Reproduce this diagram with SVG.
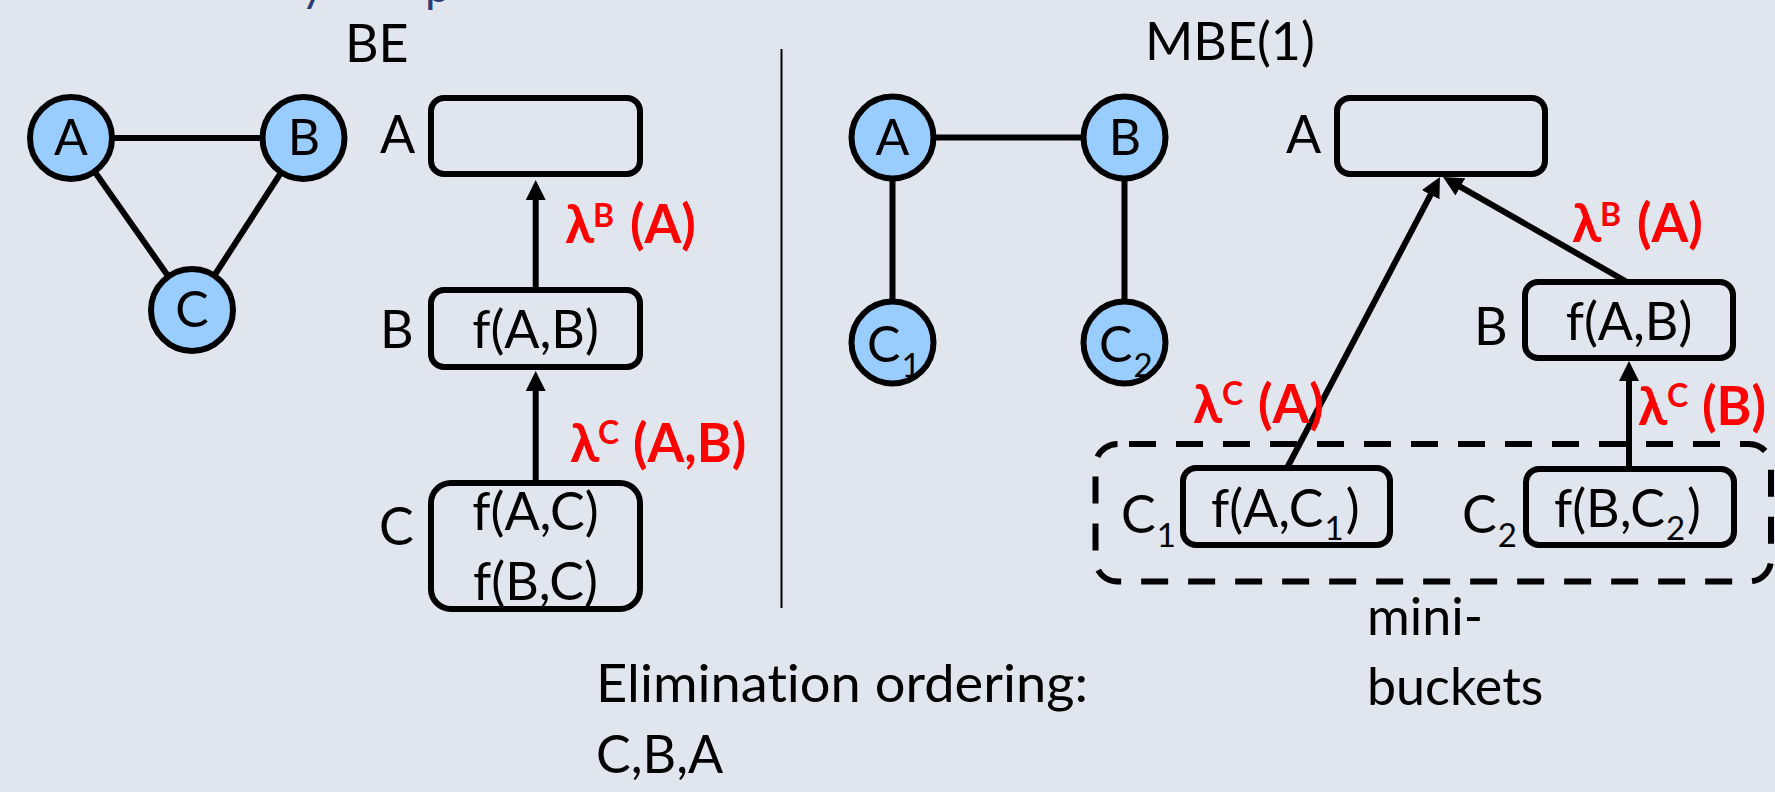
<svg xmlns="http://www.w3.org/2000/svg" width="1775" height="792" viewBox="0 0 1775 792">
  <style>
    text { font-variant-ligatures: none; font-feature-settings: "liga" 0, "clig" 0; }
    .bg { fill: #E1E5EE; }
    .node circle { fill: #99CCFF; stroke: #000; stroke-width: 6; }
    .node text { font-size: 50px; }
    .bucket { fill: none; stroke: #000; stroke-width: 6; }
    .edge { stroke: #000; stroke-width: 6; fill: none; }
    .arrow { stroke: #000; stroke-width: 6; fill: none; marker-end: url(#head); }
    .t { font-family: Lato, "Open Sans", "DejaVu Sans", sans-serif; font-size: 52px; fill: #000; }
    .mid { text-anchor: middle; }
    .msg { font-family: Lato, "Open Sans", "DejaVu Sans", sans-serif; font-size: 53px; font-weight: bold; fill: #FF0000; }
    .sup { font-size: 32px; }
    .sub { font-size: 33px; }
    .title { font-family: Lato, "Open Sans", sans-serif; font-size: 46px; fill: #2C3C78; }
  </style>
  <defs>
    <marker id="head" markerUnits="userSpaceOnUse" viewBox="0 0 20 20" markerWidth="20" markerHeight="20" refX="12" refY="10" orient="auto">
      <path d="M0,0 L20,10 L0,20 z" fill="#000"/>
    </marker>
  </defs>

  <rect class="bg" x="0" y="0" width="1775" height="792"/>

  <!-- heading line, mostly above the top edge -->
  <text class="title" x="301" y="1">y</text>
  <text class="title" x="425" y="2">p</text>

  <!-- divider between the two panels -->
  <line x1="781.5" y1="49" x2="781.5" y2="608" stroke="#000" stroke-width="2"/>

  <!-- ===== Left panel: bucket elimination ===== -->
  <text class="t" x="345" y="62">BE</text>

  <g id="left-edges">
    <line class="edge" x1="71" y1="138" x2="303.5" y2="138"/>
    <line class="edge" x1="71" y1="138" x2="192" y2="310"/>
    <line class="edge" x1="303.5" y1="138" x2="192" y2="310"/>
  </g>
  <g id="be-node-A" class="node">
    <circle cx="71" cy="138" r="41"/>
    <text class="t mid" x="71" y="155">A</text>
  </g>
  <g id="be-node-B" class="node">
    <circle cx="303.5" cy="138" r="41"/>
    <text class="t mid" x="304" y="155">B</text>
  </g>
  <g id="be-node-C" class="node">
    <circle cx="192" cy="310" r="41"/>
    <text class="t mid" x="192" y="327">C</text>
  </g>

  <g id="be-bucket-A">
    <text class="t" x="380" y="153">A</text>
    <rect class="bucket" x="431" y="98" width="209" height="76" rx="13"/>
  </g>
  <g id="be-bucket-B">
    <text class="t" x="380" y="348">B</text>
    <rect class="bucket" x="431" y="290" width="209" height="77" rx="13"/>
    <text class="t mid" x="535.5" y="348">f(A,B)</text>
  </g>
  <g id="be-bucket-C">
    <text class="t" x="379" y="545">C</text>
    <rect class="bucket" x="431" y="483" width="209" height="126" rx="20"/>
    <text class="t mid" x="535.5" y="530">f(A,C)</text>
    <text class="t mid" x="535.5" y="600">f(B,C)</text>
  </g>

  <g id="be-connectors">
    <line class="arrow" x1="535.7" y1="290" x2="535.7" y2="188"/>
    <line class="arrow" x1="535.7" y1="483" x2="535.7" y2="379"/>
  </g>
  <g id="be-messages">
    <text class="msg"><tspan x="565" y="243">λ</tspan><tspan class="sup" x="593" y="227">B</tspan><tspan x="630" y="243">(A)</tspan></text>
    <text class="msg"><tspan x="570" y="462">λ</tspan><tspan class="sup" x="598" y="444">C</tspan><tspan x="633" y="462">(A,B)</tspan></text>
  </g>

  <g id="ordering">
    <text class="t" x="596" y="702" textLength="492" lengthAdjust="spacingAndGlyphs">Elimination ordering:</text>
    <text class="t" x="596" y="773">C,B,A</text>
  </g>

  <!-- ===== Right panel: mini-bucket elimination ===== -->
  <text class="t" x="1145" y="60">MBE(1)</text>

  <g id="right-edges">
    <line class="edge" x1="892.5" y1="137.5" x2="1124.5" y2="137.5"/>
    <line class="edge" x1="892.5" y1="137.5" x2="892.5" y2="342.5"/>
    <line class="edge" x1="1124.5" y1="137.5" x2="1124.5" y2="342.5"/>
  </g>
  <g id="mbe-node-A" class="node">
    <circle cx="892.5" cy="137.5" r="41"/>
    <text class="t mid" x="892.5" y="154.5">A</text>
  </g>
  <g id="mbe-node-B" class="node">
    <circle cx="1124.5" cy="137.5" r="41"/>
    <text class="t mid" x="1125" y="154.5">B</text>
  </g>
  <g id="mbe-node-C1" class="node">
    <circle cx="892.5" cy="342.5" r="41"/>
    <text class="t" x="867" y="362">C<tspan class="sub" dx="1" dy="15">1</tspan></text>
  </g>
  <g id="mbe-node-C2" class="node">
    <circle cx="1124.5" cy="342.5" r="41"/>
    <text class="t" x="1099" y="362">C<tspan class="sub" dx="1" dy="15">2</tspan></text>
  </g>

  <g id="mbe-bucket-A">
    <text class="t" x="1286" y="153">A</text>
    <rect class="bucket" x="1337" y="98" width="208" height="76" rx="13"/>
  </g>
  <g id="mbe-bucket-B">
    <text class="t" x="1474" y="345">B</text>
    <rect class="bucket" x="1525" y="282" width="208" height="76" rx="13"/>
    <text class="t mid" x="1629" y="340">f(A,B)</text>
  </g>

  <g id="mini-bucket-group">
    <rect x="1095.5" y="444" width="675.5" height="137.5" rx="22" fill="none" stroke="#000" stroke-width="6" stroke-dasharray="27 20" stroke-dashoffset="35.5"/>
    <text class="t" x="1367" y="635">mini-</text>
    <text class="t" x="1367" y="705">buckets</text>
  </g>
  <g id="mbe-bucket-C1">
    <text class="t" x="1121" y="533">C<tspan class="sub" dx="1" dy="14">1</tspan></text>
    <rect class="bucket" x="1183" y="468" width="207" height="77" rx="13"/>
    <text class="t" x="1211" y="527">f(A,C<tspan class="sub" dx="1" dy="13">1</tspan><tspan dx="2" dy="-13">)</tspan></text>
  </g>
  <g id="mbe-bucket-C2">
    <text class="t" x="1462" y="533">C<tspan class="sub" dx="1" dy="14">2</tspan></text>
    <rect class="bucket" x="1526" y="469" width="208" height="76" rx="13"/>
    <text class="t" x="1554" y="527">f(B,C<tspan class="sub" dx="1" dy="13">2</tspan><tspan dx="2" dy="-13">)</tspan></text>
  </g>

  <g id="mbe-connectors">
    <line class="arrow" x1="1627" y1="282" x2="1450" y2="180.9"/>
    <line class="arrow" x1="1287" y1="468" x2="1436.2" y2="184.1"/>
    <line class="arrow" x1="1629" y1="469" x2="1629" y2="369"/>
  </g>
  <g id="mbe-messages">
    <text class="msg"><tspan x="1572" y="242">λ</tspan><tspan class="sup" x="1600" y="226">B</tspan><tspan x="1637" y="242">(A)</tspan></text>
    <text class="msg"><tspan x="1193" y="423">λ</tspan><tspan class="sup" x="1222" y="405">C</tspan><tspan x="1258" y="423">(A)</tspan></text>
    <text class="msg"><tspan x="1638" y="425">λ</tspan><tspan class="sup" x="1667" y="407">C</tspan><tspan x="1702" y="425">(B)</tspan></text>
  </g>
</svg>
